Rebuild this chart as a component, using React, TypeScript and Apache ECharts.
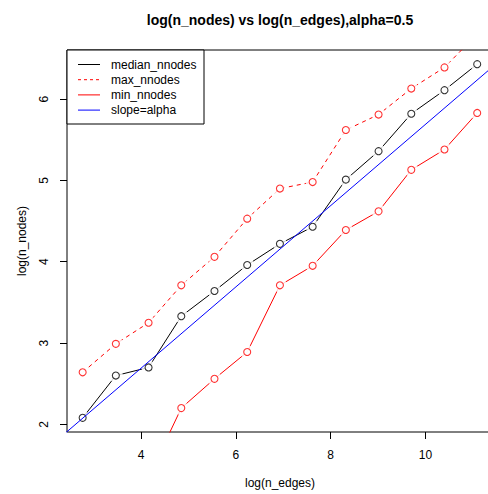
import React, { useEffect, useRef } from "react";
import * as echarts from "echarts";

const logEdges = [2.77, 3.47, 4.16, 4.85, 5.55, 6.24, 6.93, 7.62, 8.32, 9.01, 9.70, 10.40, 11.09];
const medianNodes = [2.08, 2.60, 2.70, 3.33, 3.64, 3.96, 4.22, 4.43, 5.01, 5.36, 5.82, 6.11, 6.43];
const maxNodes = [2.64, 2.99, 3.25, 3.71, 4.06, 4.53, 4.90, 4.98, 5.62, 5.81, 6.13, 6.39, 6.80];
const minNodes: (number | null)[] = [null, null, 1.35, 2.20, 2.56, 2.89, 3.71, 3.95, 4.39, 4.62, 5.13, 5.38, 5.83];
const alpha = 0.5;
const alphaIntercept = 0.69;
const alphaXs = [2, 12];
const xTicks = [4, 6, 8, 10];
const yTicks = [2, 3, 4, 5, 6];
const seriesNames = ["median_nnodes", "max_nnodes", "min_nnodes", "slope=alpha"];
const titleText = "log(n_nodes) vs log(n_edges),alpha=0.5";
const xTitle = "log(n_edges)";
const yTitle = "log(n_nodes)";

const FONT = "'Liberation Sans', Arial, Helvetica, sans-serif";

function pairs(ys: (number | null)[]) {
  const out: number[][] = [];
  ys.forEach((y, i) => {
    if (y !== null) out.push([logEdges[i], y]);
  });
  return out;
}

export default function App() {
  const ref = useRef<HTMLDivElement>(null);
  useEffect(() => {
    if (!ref.current) return;
    const chart = echarts.init(ref.current, null, { renderer: "svg" });
    const dataSets = [
      { name: seriesNames[0], data: pairs(medianNodes), color: "#000000", type: "solid" as any },
      { name: seriesNames[1], data: pairs(maxNodes), color: "#FF0000", type: [4, 4] as any },
      { name: seriesNames[2], data: pairs(minNodes), color: "#FF0000", type: "solid" as any },
    ];
    const series: any[] = [];
    dataSets.forEach((d) => {
      series.push({
        name: d.name,
        type: "line",
        data: d.data,
        showSymbol: false,
        symbol: "none",
        clip: true,
        z: 2,
        lineStyle: { color: d.color, width: 1, type: d.type },
        silent: true,
      });
    });
    dataSets.forEach((d) => {
      series.push({
        name: d.name + "_gap",
        type: "scatter",
        data: d.data,
        symbol: "circle",
        symbolSize: 14,
        clip: true,
        z: 3,
        itemStyle: { color: "#ffffff", borderWidth: 0 },
        silent: true,
      });
    });
    dataSets.forEach((d) => {
      series.push({
        name: d.name + "_pts",
        type: "scatter",
        data: d.data,
        symbol: "circle",
        symbolSize: 7,
        clip: true,
        z: 4,
        itemStyle: { color: "#ffffff", borderColor: d.color, borderWidth: 1.1 },
        silent: true,
      });
    });
    series.push({
      name: seriesNames[3],
      type: "line",
      data: alphaXs.map((x) => [x, alpha * x + alphaIntercept]),
      showSymbol: false,
      symbol: "none",
      clip: true,
      z: 5,
      lineStyle: { color: "#0000FF", width: 1 },
      silent: true,
    });

    const legendColors = ["#000000", "#FF0000", "#FF0000", "#0000FF"];
    const legendDash: any[] = [null, [3, 3], null, null];
    const legendY0 = 64.5;
    const legendStep = 15.2;
    const legendEls: any[] = [
      {
        type: "rect",
        shape: { x: 67, y: 50, width: 137, height: 74 },
        style: { fill: "#ffffff", stroke: "#000000", lineWidth: 1 },
        z: 10,
      },
    ];
    seriesNames.forEach((n, i) => {
      const y = legendY0 + i * legendStep;
      legendEls.push({
        type: "line",
        shape: { x1: 78, y1: y, x2: 100, y2: y },
        style: { stroke: legendColors[i], lineWidth: 1, lineDash: legendDash[i] || undefined },
        z: 11,
      });
      legendEls.push({
        type: "text",
        x: 111,
        y: y,
        style: { text: n, font: `12px ${FONT}`, fill: "#000", verticalAlign: "middle", align: "left" },
        z: 11,
      });
    });

    chart.setOption({
      animation: false,
      backgroundColor: "#ffffff",
      grid: {
        left: 67,
        top: 50,
        width: 426,
        height: 382,
        show: true,
        borderColor: "#000000",
        borderWidth: 1,
        backgroundColor: "transparent",
        containLabel: false,
        outerBoundsMode: "none",
      },
      xAxis: {
        type: "value",
        min: 2.44,
        max: 11.423,
        axisLine: { show: false },
        splitLine: { show: false },
        axisTick: { show: true, length: 7, inside: false, customValues: xTicks, lineStyle: { color: "#000", width: 1 } },
        axisLabel: {
          customValues: xTicks,
          margin: 17,
          color: "#000",
          fontSize: 12,
          fontFamily: FONT,
        },
      },
      yAxis: {
        type: "value",
        min: 1.906,
        max: 6.604,
        axisLine: { show: false },
        splitLine: { show: false },
        axisTick: { show: true, length: 7, inside: false, customValues: yTicks, lineStyle: { color: "#000", width: 1 } },
        axisLabel: {
          customValues: yTicks,
          rotate: 90,
          margin: 17,
          color: "#000",
          fontSize: 12,
          fontFamily: FONT,
        },
      },
      series,
      graphic: [
        {
          type: "text",
          x: 280,
          y: 20,
          style: { text: titleText, font: `bold 14px ${FONT}`, fill: "#000", align: "center", verticalAlign: "middle" },
        },
        {
          type: "text",
          x: 280,
          y: 483,
          style: { text: xTitle, font: `12px ${FONT}`, fill: "#000", align: "center", verticalAlign: "middle" },
        },
        {
          type: "text",
          x: 22,
          y: 241,
          rotation: Math.PI / 2,
          style: { text: yTitle, font: `12px ${FONT}`, fill: "#000", align: "center", verticalAlign: "middle" },
        },
        ...legendEls,
      ],
    });
    return () => chart.dispose();
  }, []);
  return (
    <div
      ref={ref}
      style={{ position: "fixed", left: 0, top: 0, width: 488, height: 494, background: "#fff" }}
    />
  );
}
